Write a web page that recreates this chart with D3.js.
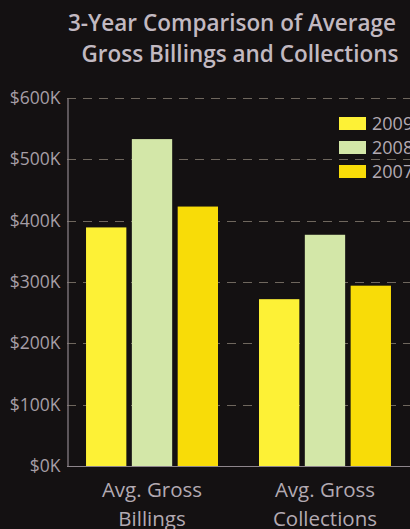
<!DOCTYPE html>
<html>
<head>
<meta charset="utf-8">
<script src="https://cdn.jsdelivr.net/npm/d3@7"></script>
<style>
  html, body { margin: 0; padding: 0; background: #141112; }
  svg { display: block; }
</style>
</head>
<body>
<div id="chart"></div>
<script>
(function(){
    'use strict';

    // chart data
    var categories = [['Avg. Gross', 'Billings'], ['Avg. Gross', 'Collections']];
    var years = ['2009', '2008', '2007'];
    var values2009 = [389, 272];
    var values2008 = [533, 377];
    var values2007 = [423, 294];
    var yTicks = [0, 100, 200, 300, 400, 500, 600];
    var titleLines = ['3-Year Comparison of Average', 'Gross Billings and Collections'];

    var series = [values2009, values2008, values2007];
    var colors = ['#fdf136', '#d3e7a8', '#f8dc08'];

    var W = 410, H = 529;
    var left = 67, right = 410, top = 98, bottom = 466;

    var svg = d3.select('#chart').append('svg')
        .attr('width', W).attr('height', H);

    svg.append('rect').attr('width', W).attr('height', H).attr('fill', '#141112');

    // title
    svg.append('g').selectAll('text')
        .data(titleLines).enter()
        .append('text')
        .attr('x', function(d, i){ return i ? 240 : 232; })
        .attr('y', function(d, i){ return 31 + i * 31; })
        .attr('text-anchor', 'middle')
        .attr('font-family', '"Open Sans", sans-serif')
        .attr('font-weight', 600)
        .attr('font-size', 22.5)
        .attr('fill', '#c2b9c1')
        .text(function(d){ return d; });

    var y = d3.scaleLinear().domain([0, 600]).range([bottom, top]);
    var x0 = d3.scaleBand().domain(d3.range(categories.length))
        .range([left, right]).paddingInner(0.237).paddingOuter(0.11);
    var x1 = d3.scaleBand().domain(years)
        .range([0, x0.bandwidth()]).paddingInner(0.12).paddingOuter(0);

    // dashed gridlines
    svg.append('g').selectAll('line')
        .data(yTicks.filter(function(t){ return t > 0; })).enter()
        .append('line')
        .attr('x1', left).attr('x2', W)
        .attr('y1', function(d){ return Math.round(y(d)) + 0.5; })
        .attr('y2', function(d){ return Math.round(y(d)) + 0.5; })
        .attr('stroke', '#6f675e')
        .attr('stroke-width', 1)
        .attr('stroke-dasharray', '9,7');

    // bars
    var groups = svg.append('g').selectAll('g')
        .data(categories).enter()
        .append('g')
        .attr('transform', function(d, i){ return 'translate(' + x0(i) + ',0)'; });

    groups.selectAll('rect')
        .data(function(d, i){
            return years.map(function(yr, k){ return {year: yr, value: series[k][i], k: k}; });
        }).enter()
        .append('rect')
        .attr('x', function(d){ return x1(d.year); })
        .attr('width', x1.bandwidth())
        .attr('y', function(d){ return y(d.value); })
        .attr('height', function(d){ return y(0) - y(d.value); })
        .attr('fill', function(d){ return colors[d.k]; });

    // y axis
    var yAxis = d3.axisLeft(y).tickValues(yTicks).tickSize(0).tickPadding(7)
        .tickFormat(function(d){ return '$' + d + 'K'; });
    var ga = svg.append('g').attr('transform', 'translate(' + (left + 0.5) + ',0)').call(yAxis);
    ga.select('.domain').attr('stroke', '#8e868c').attr('stroke-width', 1.2);
    ga.selectAll('text')
        .attr('fill', '#a69ea6')
        .attr('font-family', '"Open Sans", sans-serif')
        .attr('font-size', 17.5);

    // baseline
    svg.append('line')
        .attr('x1', left).attr('x2', W)
        .attr('y1', bottom + 0.5).attr('y2', bottom + 0.5)
        .attr('stroke', '#8e868c').attr('stroke-width', 1.2);

    // category labels
    var xl = svg.append('g').selectAll('text')
        .data(categories).enter()
        .append('text')
        .attr('x', function(d, i){ return x0(i) + x0.bandwidth() / 2; })
        .attr('text-anchor', 'middle')
        .attr('font-family', '"Open Sans", sans-serif')
        .attr('font-size', 20.5)
        .attr('fill', '#b3aab2');
    xl.selectAll('tspan')
        .data(function(d){ return d; }).enter()
        .append('tspan')
        .attr('x', function(){ return d3.select(this.parentNode).attr('x'); })
        .attr('y', function(d, i){ return 497 + i * 29; })
        .text(function(d){ return d; });

    // legend
    var lg = svg.append('g').selectAll('g')
        .data(years).enter()
        .append('g')
        .attr('transform', function(d, i){ return 'translate(339,' + (117 + i * 24) + ')'; });
    lg.append('rect')
        .attr('width', 27).attr('height', 13)
        .attr('fill', function(d, i){ return colors[i]; });
    lg.append('text')
        .attr('x', 33).attr('y', 13)
        .attr('font-family', '"Open Sans", sans-serif')
        .attr('font-size', 18)
        .attr('fill', '#b3aab2')
        .text(function(d){ return d; });
}());
</script>
</body>
</html>
